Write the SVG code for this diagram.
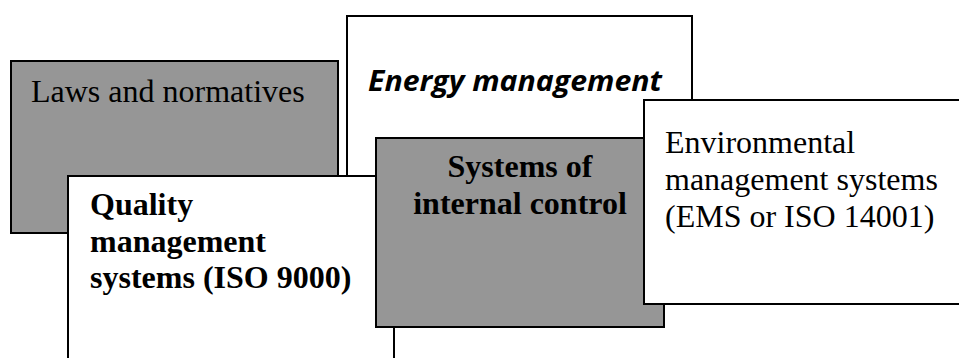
<svg xmlns="http://www.w3.org/2000/svg" width="959" height="358" viewBox="0 0 959 358">
<style>
.box{stroke:#000;stroke-width:2}
.edge{fill:none;stroke:#000;stroke-width:2}
.gray{fill:#969696}
.white{fill:#fff}
.serif{font-family:"Liberation Serif","Times New Roman",serif;font-size:32px;fill:#000}
.b{font-weight:bold}
.sans{font-family:"Open Sans","Noto Sans",sans-serif;font-size:29px;font-weight:bold;font-style:italic;fill:#000}
</style>
<rect width="959" height="358" fill="#fff"/>
<g id="energy">
<rect class="box white" x="347" y="16" width="345" height="270"/>
<text class="sans" x="368" y="91" textLength="294" lengthAdjust="spacingAndGlyphs">Energy management</text>
</g>
<g id="laws">
<rect class="box gray" x="11" y="61" width="327" height="172"/>
<text class="serif" x="31" y="102">Laws and normatives</text>
</g>
<g id="quality">
<rect class="white" x="68" y="176" width="326" height="190"/>
<path class="edge" d="M68,366 V176 H394 V366"/>
<text class="serif b" x="90" y="215">Quality</text>
<text class="serif b" x="90" y="252">management</text>
<text class="serif b" x="90" y="288">systems (ISO 9000)</text>
</g>
<g id="internal">
<rect class="box gray" x="376" y="138" width="288" height="189"/>
<text class="serif b" x="520" y="177" text-anchor="middle">Systems of</text>
<text class="serif b" x="520" y="214" text-anchor="middle">internal control</text>
</g>
<g id="environmental">
<rect class="white" x="644" y="100" width="330" height="204"/>
<path class="edge" d="M970,100 H644 V304 H970"/>
<text class="serif" x="665" y="153">Environmental</text>
<text class="serif" x="665" y="190">management systems</text>
<text class="serif" x="665" y="227">(EMS or ISO 14001)</text>
</g>
<g id="connectors"/>
</svg>
